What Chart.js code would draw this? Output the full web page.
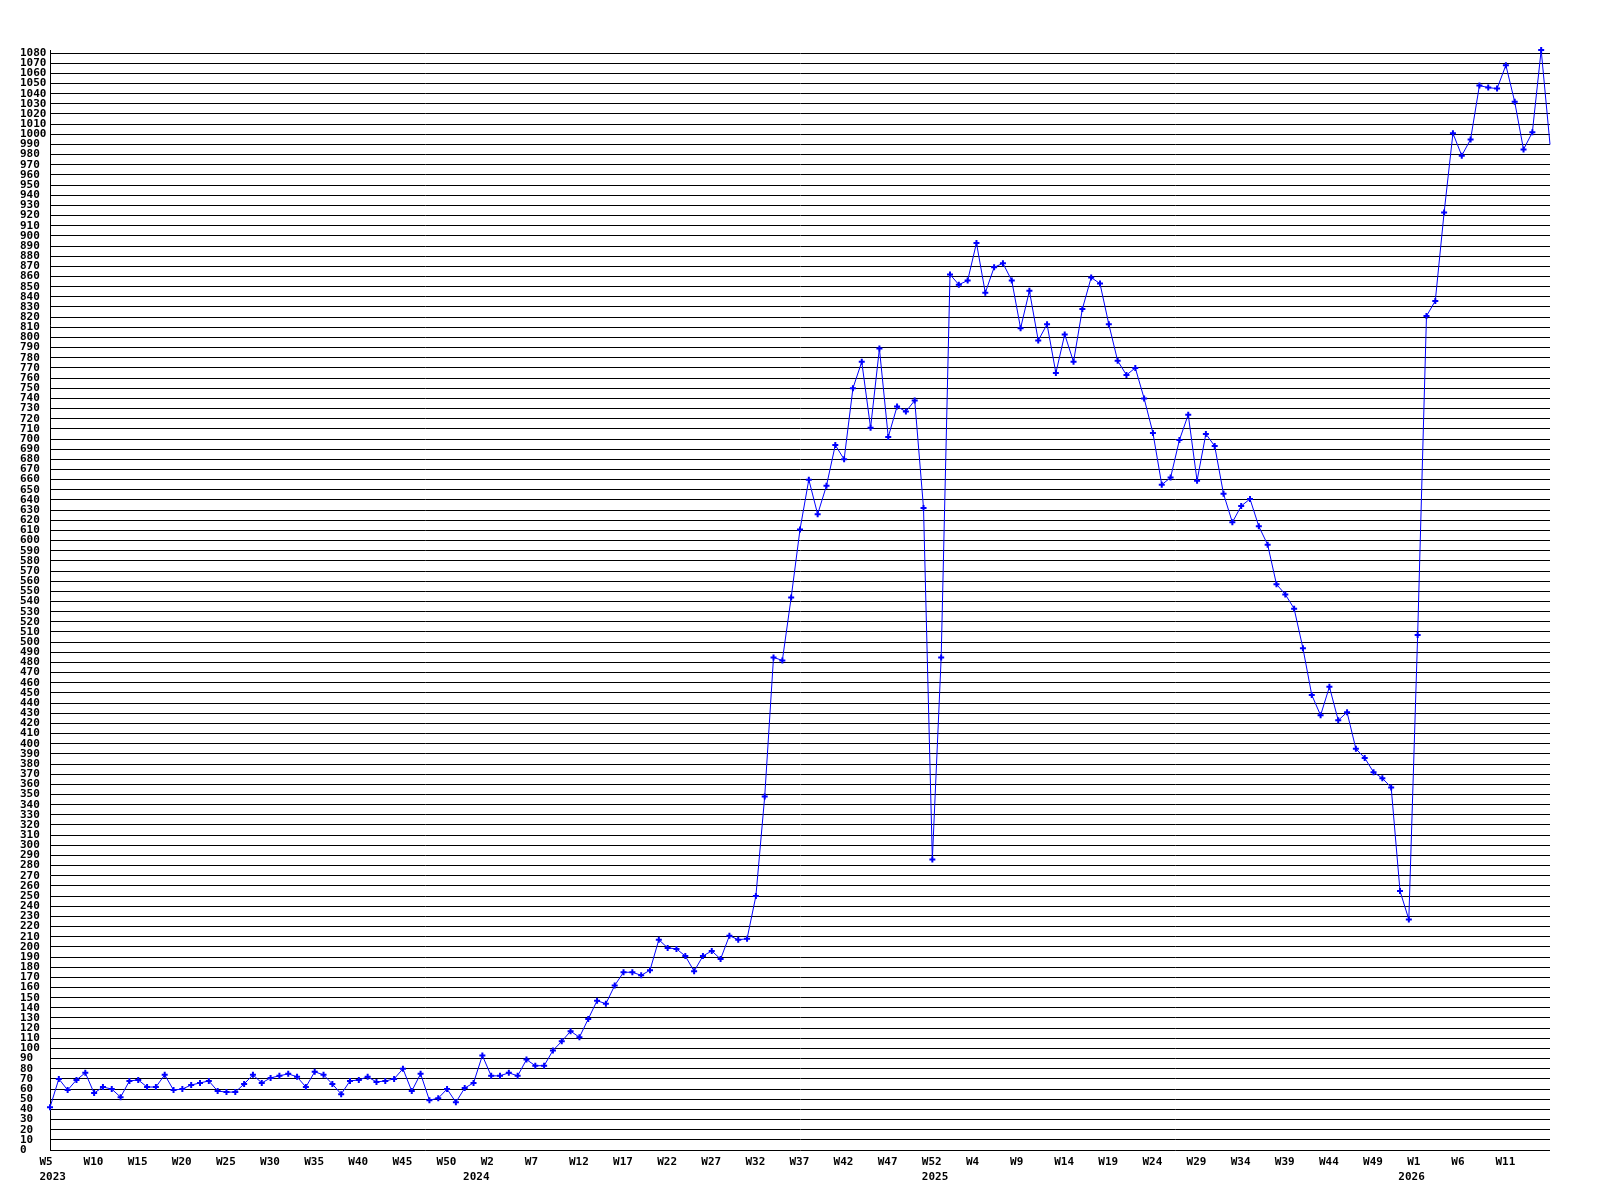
<!DOCTYPE html>
<html>
<head>
<meta charset="utf-8">
<script src="https://cdn.jsdelivr.net/npm/chart.js@4.4.1/dist/chart.umd.min.js"></script>
<style>
  html, body { margin: 0; padding: 0; background: #fff; }
  canvas { display: block; }
</style>
</head>
<body>
<canvas id="weekly" width="1600" height="1200"></canvas>
<script>
// --- Data ---
// weeks per year as drawn on the axis: [year, first week, last week]
const yearWeeks = [[2023, 5, 53], [2024, 1, 53], [2025, 1, 53], [2026, 1, 16]];

const values = [
  42, 70, 59, 69, 76, 56, 62, 60, 52, 68,
  69, 62, 62, 74, 59, 60, 64, 66, 68, 58,
  57, 57, 65, 74, 66, 71, 73, 75, 72, 62,
  77, 74, 65, 55, 68, 69, 72, 67, 68, 70,
  80, 58, 75, 49, 51, 60, 47, 61, 66, 93,
  73, 73, 76, 73, 89, 83, 83, 98, 107, 117,
  111, 129, 147, 144, 162, 175, 175, 172, 177, 207,
  199, 198, 191, 176, 191, 196, 188, 211, 207, 208,
  250, 348, 485, 482, 544, 611, 660, 626, 654, 694,
  680, 750, 776, 711, 789, 702, 732, 727, 738, 632,
  286, 485, 862, 852, 856, 893, 844, 869, 873, 856,
  809, 846, 797, 813, 765, 803, 776, 828, 859, 853,
  813, 777, 763, 770, 740, 706, 655, 662, 699, 724,
  659, 705, 693, 646, 618, 634, 641, 614, 596, 557,
  547, 533, 494, 448, 428, 456, 423, 431, 395, 386,
  372, 366, 357, 255, 227, 507, 821, 836, 923, 1001,
  979, 995, 1048, 1046, 1045, 1068, 1032, 985, 1002, 1083,
  990
];

// x tick labels: every 5th category, year printed under these weeks
const tickEvery = 5;
const yearLabels = ['2023', '2024', '2025', '2026'];
const yearAt = ['2023-W05', '2023-W53', '2024-W52', '2025-W53'];

// y axis ticks
const yMin = 0, yMax = 1083, yStep = 10;

// --- Categories ---
const weeks = [];
yearWeeks.forEach(([y, a, b]) => {
  for (let w = a; w <= b; w++) weeks.push(y + '-W' + String(w).padStart(2, '0'));
});

const FONT = 'bold 11px "DejaVu Sans Mono", "Liberation Mono", monospace';

// week / year labels under the plot, left aligned a bit before the point
const xLabels = {
  id: 'xLabels',
  afterDraw(chart) {
    const { ctx, chartArea } = chart;
    const xs = chart.scales.x;
    ctx.save();
    ctx.font = FONT;
    ctx.fillStyle = '#000';
    ctx.textAlign = 'left';
    ctx.textBaseline = 'middle';
    weeks.forEach((w, i) => {
      // the last week sits on the right edge, no room for its label
      if (i % tickEvery || i === weeks.length - 1) return;
      const txt = 'W' + parseInt(w.split('-W')[1], 10);
      ctx.fillText(txt, xs.getPixelForValue(i) - 10.5, chartArea.bottom + 12.5);
    });
    yearLabels.forEach((yl, k) => {
      const i = weeks.indexOf(yearAt[k]);
      ctx.fillText(yl, xs.getPixelForValue(i) - 10.5, chartArea.bottom + 27);
    });
    ctx.restore();
  }
};

new Chart(document.getElementById('weekly'), {
  type: 'line',
  data: {
    labels: weeks,
    datasets: [{
      data: values,
      borderColor: '#0000ff',
      borderWidth: 1,
      backgroundColor: '#0000ff',
      pointStyle: 'cross',
      pointBorderColor: '#0000ff',
      pointBorderWidth: 2,
      pointRadius: c => c.dataIndex === values.length - 1 ? 0 : 3,
      tension: 0,
      fill: false,
      clip: false
    }]
  },
  options: {
    responsive: false,
    animation: false,
    devicePixelRatio: 1,
    layout: { padding: { left: 20, right: 50, top: 50, bottom: 50 } },
    plugins: { legend: { display: false }, tooltip: { enabled: false } },
    scales: {
      x: { type: 'category', display: false, offset: false },
      y: {
        min: yMin,
        max: yMax,
        afterFit: s => { s.width = 30; },
        border: { display: true, color: '#000', width: 1 },
        grid: { color: '#000', lineWidth: 1, drawTicks: false },
        ticks: {
          stepSize: yStep,
          includeBounds: false,
          autoSkip: false,
          crossAlign: 'far',
          padding: 0,
          color: '#000',
          callback: v => String(v),
          font: { family: '"DejaVu Sans Mono", "Liberation Mono", monospace', size: 11, weight: 'bold' }
        }
      }
    }
  },
  plugins: [xLabels]
});
</script>
</body>
</html>
